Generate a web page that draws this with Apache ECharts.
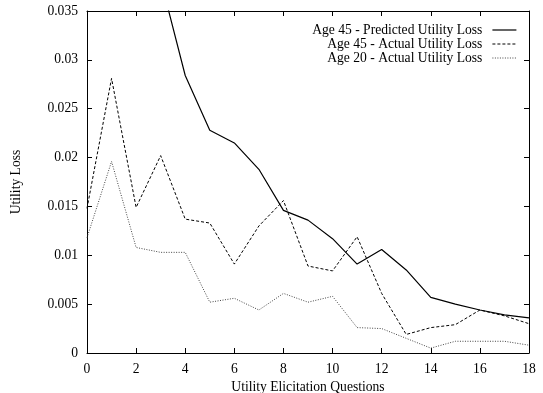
<!DOCTYPE html>
<html><head><meta charset="utf-8">
<script src="https://cdn.jsdelivr.net/npm/echarts@6/dist/echarts.min.js"></script>
<style>html,body{margin:0;padding:0;background:#fff}#c{width:543px;height:393px}</style>
</head><body><div id="c"></div>
<script>
const questions = [0,1,2,3,4,5,6,7,8,9,10,11,12,13,14,15,16,17,18];
const predicted45 = [null,null,null,0.0382,0.0284,0.0228,0.0215,0.0188,0.0146,0.0136,0.0117,0.0091,0.0106,0.0085,0.0057,0.0050,0.0044,0.0039,0.0036];
const actual45 = [0.0148,0.0281,0.0149,0.0202,0.0137,0.0133,0.0091,0.0130,0.0156,0.0089,0.0084,0.0119,0.0061,0.0019,0.0026,0.0029,0.0044,0.0038,0.0030];
const actual20 = [0.0118,0.0196,0.0108,0.0103,0.0103,0.0052,0.0056,0.0044,0.0061,0.0052,0.0058,0.0026,0.0025,0.0015,0.0005,0.0012,0.0012,0.0012,0.0008];
const seriesNames = ['Age 45 - Predicted Utility Loss','Age 45 - Actual Utility Loss','Age 20 - Actual Utility Loss'];
const yTicks = [0,0.005,0.01,0.015,0.02,0.025,0.03,0.035];

const font = 'Liberation Serif';
const fs = 13.6;
const chart = echarts.init(document.getElementById('c'));
const pair = arr => questions.map((q,i)=>[q,arr[i]]);
const tick = () => ({show:true,inside:true,length:5,lineStyle:{color:'#000',width:1}});
const line = () => ({show:true,onZero:false,lineStyle:{color:'#000',width:1}});
const styles = [
  {color:'#000',width:1.2,type:'solid'},
  {color:'#000',width:1,type:[3,2]},
  {color:'#444',width:1,type:[1,1.5]}
];
chart.setOption({
  animation:false,
  grid:{left:87,right:14,top:11,bottom:40,outerBoundsMode:'none',containLabel:false},
  legend:{
    orient:'vertical', right:21, top:18, align:'right', itemGap:0,
    itemWidth:24, itemHeight:10,
    textStyle:{fontFamily:font,fontSize:fs,color:'#000',lineHeight:13.5,padding:[0,5,0,0]},
    data:seriesNames.map((n,i)=>({name:n,lineStyle:styles[i]}))
  },
  xAxis:[{
    type:'value', min:0, max:18, interval:2,
    name:'Utility Elicitation Questions', nameLocation:'middle', nameGap:24,
    nameTextStyle:{fontFamily:font,fontSize:fs,color:'#000'},
    axisLine:line(), axisTick:tick(), splitLine:{show:false},
    axisLabel:{fontFamily:font,fontSize:fs,color:'#000',margin:9}
  },{
    type:'value', min:0, max:18, interval:2, position:'top',
    axisLine:line(), axisTick:tick(),
    axisLabel:{show:false}, splitLine:{show:false}
  }],
  yAxis:[{
    type:'value', min:0, max:0.035, interval:0.005,
    name:'Utility Loss', nameLocation:'middle', nameGap:64, nameRotate:90,
    nameTextStyle:{fontFamily:font,fontSize:fs,color:'#000'},
    axisLine:line(), axisTick:tick(), splitLine:{show:false},
    axisLabel:{fontFamily:font,fontSize:fs,color:'#000',margin:9,
      formatter:v=>{const t=yTicks.find(x=>Math.abs(x-v)<1e-9);return t===undefined?'':String(t);}}
  },{
    type:'value', min:0, max:0.035, interval:0.005, position:'right',
    axisLine:line(), axisTick:tick(),
    axisLabel:{show:false}, splitLine:{show:false}
  }],
  series:[
    {name:seriesNames[0],type:'line',data:pair(predicted45),symbol:'none',clip:true,
     lineStyle:styles[0],itemStyle:{color:'rgba(0,0,0,0)'}},
    {name:seriesNames[1],type:'line',data:pair(actual45),symbol:'none',clip:true,
     lineStyle:styles[1],itemStyle:{color:'rgba(0,0,0,0)'}},
    {name:seriesNames[2],type:'line',data:pair(actual20),symbol:'none',clip:true,
     lineStyle:styles[2],itemStyle:{color:'rgba(0,0,0,0)'}}
  ]
});
</script></body></html>
